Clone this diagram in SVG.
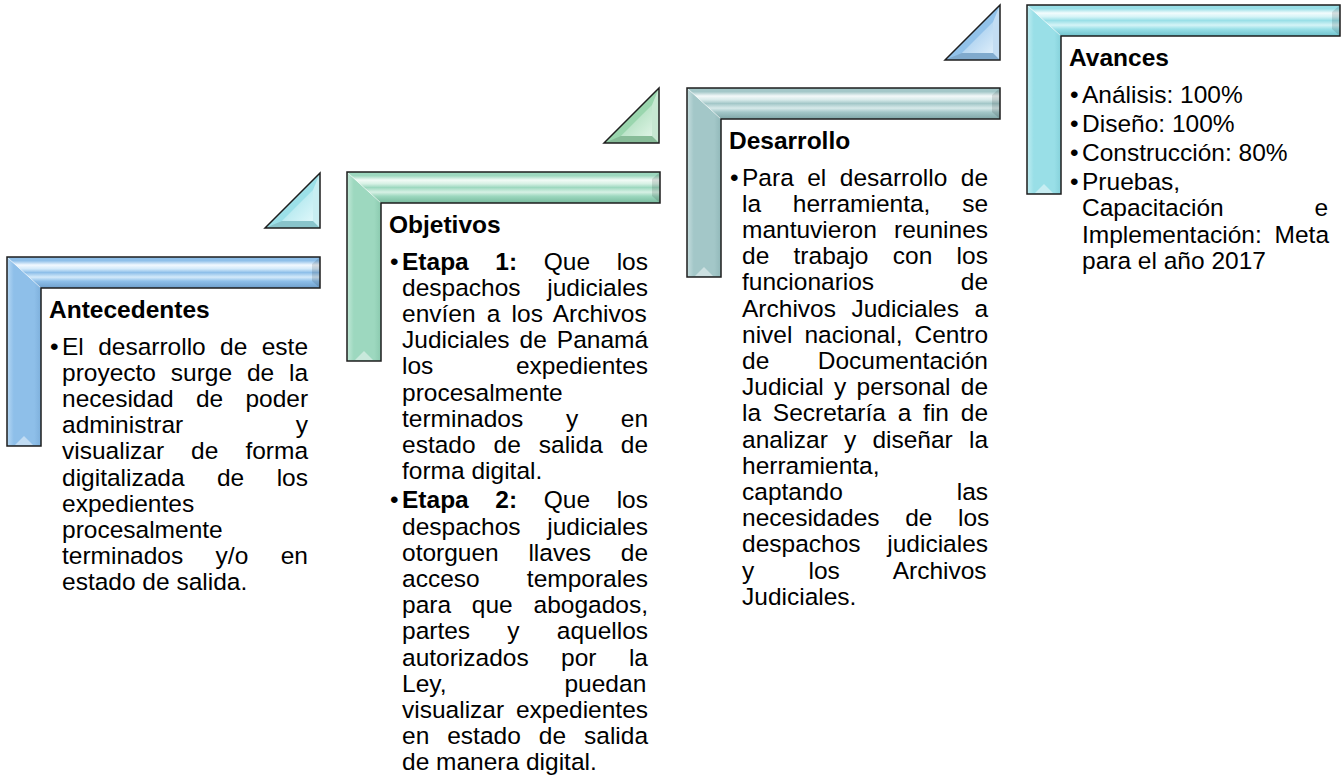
<svg xmlns="http://www.w3.org/2000/svg" width="1343" height="782" viewBox="0 0 1343 782">
<style>
text{font-family:"Liberation Sans",Arial,sans-serif;font-size:24.5px;fill:#000}
.h{font-weight:bold}
.out{fill:none;stroke:#1e1e1e;stroke-width:1.5;stroke-linejoin:miter}
.fd{fill:#000;opacity:.12}
.fl{fill:#fff;opacity:.45}
.miter{stroke:#fff;stroke-opacity:.5;stroke-width:1;fill:none}
</style>
<defs>
<linearGradient id="tb-blue" x1="0" y1="0" x2="0" y2="1"><stop offset="0" stop-color="#8EBFE9"/><stop offset=".12" stop-color="#8EBFE9"/><stop offset=".26" stop-color="#F2F9FF"/><stop offset=".38" stop-color="#D4EAFA"/><stop offset=".5" stop-color="#8EBFE9"/><stop offset=".65" stop-color="#D4EAFA"/><stop offset=".78" stop-color="#8EBFE9"/><stop offset="1" stop-color="#6E9FCC"/></linearGradient>
<linearGradient id="lb-blue" x1="0" y1="0" x2="1" y2="0"><stop offset="0" stop-color="#B6D8F4"/><stop offset=".2" stop-color="#8EBFE9"/><stop offset=".8" stop-color="#8EBFE9"/><stop offset="1" stop-color="#7EB0DC"/></linearGradient>
<linearGradient id="tb-green" x1="0" y1="0" x2="0" y2="1"><stop offset="0" stop-color="#9DD8BF"/><stop offset=".12" stop-color="#9DD8BF"/><stop offset=".26" stop-color="#F2FBF6"/><stop offset=".38" stop-color="#D7F1E5"/><stop offset=".5" stop-color="#9DD8BF"/><stop offset=".65" stop-color="#D7F1E5"/><stop offset=".78" stop-color="#9DD8BF"/><stop offset="1" stop-color="#76B99C"/></linearGradient>
<linearGradient id="lb-green" x1="0" y1="0" x2="1" y2="0"><stop offset="0" stop-color="#C2E9D8"/><stop offset=".2" stop-color="#9DD8BF"/><stop offset=".8" stop-color="#9DD8BF"/><stop offset="1" stop-color="#8BCAAF"/></linearGradient>
<linearGradient id="tb-teal" x1="0" y1="0" x2="0" y2="1"><stop offset="0" stop-color="#A3C7C8"/><stop offset=".12" stop-color="#A3C7C8"/><stop offset=".26" stop-color="#F3F9F9"/><stop offset=".38" stop-color="#D8EAEA"/><stop offset=".5" stop-color="#A3C7C8"/><stop offset=".65" stop-color="#D8EAEA"/><stop offset=".78" stop-color="#A3C7C8"/><stop offset="1" stop-color="#7FA6A7"/></linearGradient>
<linearGradient id="lb-teal" x1="0" y1="0" x2="1" y2="0"><stop offset="0" stop-color="#C6DEDF"/><stop offset=".2" stop-color="#A3C7C8"/><stop offset=".8" stop-color="#A3C7C8"/><stop offset="1" stop-color="#92B9BA"/></linearGradient>
<linearGradient id="tb-cyan" x1="0" y1="0" x2="0" y2="1"><stop offset="0" stop-color="#99DFE7"/><stop offset=".12" stop-color="#99DFE7"/><stop offset=".26" stop-color="#F2FCFD"/><stop offset=".38" stop-color="#D5F4F7"/><stop offset=".5" stop-color="#99DFE7"/><stop offset=".65" stop-color="#D5F4F7"/><stop offset=".78" stop-color="#99DFE7"/><stop offset="1" stop-color="#6FC2CC"/></linearGradient>
<linearGradient id="lb-cyan" x1="0" y1="0" x2="1" y2="0"><stop offset="0" stop-color="#C0EDF2"/><stop offset=".2" stop-color="#99DFE7"/><stop offset=".8" stop-color="#99DFE7"/><stop offset="1" stop-color="#86D2DB"/></linearGradient>
<linearGradient id="tr-cyan" x1="0" y1="0" x2="1" y2="1"><stop offset="0" stop-color="#9CE0E8"/><stop offset="1" stop-color="#DDF7FA"/></linearGradient>
<linearGradient id="tr-green" x1="0" y1="0" x2="1" y2="1"><stop offset="0" stop-color="#9AD6AE"/><stop offset="1" stop-color="#DDF3E4"/></linearGradient>
<linearGradient id="tr-blue" x1="0" y1="0" x2="1" y2="1"><stop offset="0" stop-color="#92C2EA"/><stop offset="1" stop-color="#DCEDFA"/></linearGradient>
</defs>
<rect width="1343" height="782" fill="#fff"/>

<g id="connectors"/>

<g id="node-antecedentes">
  <g transform="translate(265,173)">
    <polygon points="0,55 55,0 55,55" fill="#9CE0E8"/>
    <polygon points="0,55 55,55 48,48 16.9,48" class="fd"/>
    <polygon points="55,55 55,0 48,16.9 48,48" class="fl"/>
    <polygon points="16.9,48 48,16.9 48,48" fill="url(#tr-cyan)"/>
    <polygon points="0,55 55,0 55,55" class="out"/>
  </g>
  <g transform="translate(7,257)">
    <polygon points="0,0 34,31 34,189 0,189" fill="url(#lb-blue)"/>
    <polygon points="0,0 313,0 313,31 34,31" fill="url(#tb-blue)"/>
    <polygon points="305,7 313,0 313,31 305,24" class="fd"/>
    <polygon points="8,188 17,179 26,188" class="fl"/>
    <line x1="1" y1="1" x2="34" y2="31" class="miter"/>
    <path d="M0,0H313V31H34V189H0Z" class="out"/>
  </g>
  <text class="h" x="49" y="318">Antecedentes</text>
  <text x="50" y="354.5">•</text>
  <text x="62" y="354.5" style="word-spacing:7.56px">El desarrollo de este</text>
  <text x="62" y="380.7" style="word-spacing:8.01px">proyecto surge de la</text>
  <text x="62" y="406.9" style="word-spacing:15.41px">necesidad de poder</text>
  <text x="62" y="433.1" style="word-spacing:105.8px">administrar y</text>
  <text x="62" y="459.3" style="word-spacing:20.2px">visualizar de forma</text>
  <text x="62" y="485.5" style="word-spacing:25.6px">digitalizada de los</text>
  <text x="62" y="511.7">expedientes</text>
  <text x="62" y="537.9">procesalmente</text>
  <text x="62" y="564.1" style="word-spacing:25.6px">terminados y/o en</text>
  <text x="62" y="590.3">estado de salida.</text>
</g>

<g id="node-objetivos">
  <g transform="translate(604,88)">
    <polygon points="0,55 55,0 55,55" fill="#9AD6AE"/>
    <polygon points="0,55 55,55 48,48 16.9,48" class="fd"/>
    <polygon points="55,55 55,0 48,16.9 48,48" class="fl"/>
    <polygon points="16.9,48 48,16.9 48,48" fill="url(#tr-green)"/>
    <polygon points="0,55 55,0 55,55" class="out"/>
  </g>
  <g transform="translate(347,172)">
    <polygon points="0,0 34,31 34,189 0,189" fill="url(#lb-green)"/>
    <polygon points="0,0 313,0 313,31 34,31" fill="url(#tb-green)"/>
    <polygon points="305,7 313,0 313,31 305,24" class="fd"/>
    <polygon points="8,188 17,179 26,188" class="fl"/>
    <line x1="1" y1="1" x2="34" y2="31" class="miter"/>
    <path d="M0,0H313V31H34V189H0Z" class="out"/>
  </g>
  <text class="h" x="389" y="233">Objetivos</text>
  <text x="390" y="269.5">•</text>
  <text x="402" y="269.5" style="word-spacing:19.8px"><tspan class="h">Etapa 1:</tspan> Que los</text>
  <text x="402" y="295.7" style="word-spacing:19.97px">despachos judiciales</text>
  <text x="402" y="321.9" style="word-spacing:4.38px">envíen a los Archivos</text>
  <text x="402" y="348.1" style="word-spacing:3.17px">Judiciales de Panamá</text>
  <text x="402" y="374.3" style="word-spacing:75.8px">los expedientes</text>
  <text x="402" y="400.5">procesalmente</text>
  <text x="402" y="426.7" style="word-spacing:35.9px">terminados y en</text>
  <text x="402" y="452.9" style="word-spacing:11.18px">estado de salida de</text>
  <text x="402" y="479.1">forma digital.</text>
  <text x="390" y="508.3">•</text>
  <text x="402" y="508.3" style="word-spacing:19.8px"><tspan class="h">Etapa 2:</tspan> Que los</text>
  <text x="402" y="534.5" style="word-spacing:19.97px">despachos judiciales</text>
  <text x="402" y="560.7" style="word-spacing:22.9px">otorguen llaves de</text>
  <text x="402" y="586.9" style="word-spacing:40.4px">acceso temporales</text>
  <text x="402" y="613.1" style="word-spacing:14px">para que abogados,</text>
  <text x="402" y="639.3" style="word-spacing:30.4px">partes y aquellos</text>
  <text x="402" y="665.5" style="word-spacing:25.6px">autorizados por la</text>
  <text x="402" y="691.7" style="word-spacing:111.2px">Ley, puedan</text>
  <text x="402" y="717.9" style="word-spacing:5px">visualizar expedientes</text>
  <text x="402" y="744.1" style="word-spacing:11.18px">en estado de salida</text>
  <text x="402" y="770.3">de manera digital.</text>
</g>

<g id="node-desarrollo">
  <g transform="translate(945,5)">
    <polygon points="0,55 55,0 55,55" fill="#92C2EA"/>
    <polygon points="0,55 55,55 48,48 16.9,48" class="fd"/>
    <polygon points="55,55 55,0 48,16.9 48,48" class="fl"/>
    <polygon points="16.9,48 48,16.9 48,48" fill="url(#tr-blue)"/>
    <polygon points="0,55 55,0 55,55" class="out"/>
  </g>
  <g transform="translate(687,88)">
    <polygon points="0,0 34,31 34,189 0,189" fill="url(#lb-teal)"/>
    <polygon points="0,0 313,0 313,31 34,31" fill="url(#tb-teal)"/>
    <polygon points="305,7 313,0 313,31 305,24" class="fd"/>
    <polygon points="8,188 17,179 26,188" class="fl"/>
    <line x1="1" y1="1" x2="34" y2="31" class="miter"/>
    <path d="M0,0H313V31H34V189H0Z" class="out"/>
  </g>
  <text class="h" x="729" y="149">Desarrollo</text>
  <text x="730" y="185.5">•</text>
  <text x="742" y="185.5" style="word-spacing:6.66px">Para el desarrollo de</text>
  <text x="742" y="211.7" style="word-spacing:24.96px">la herramienta, se</text>
  <text x="742" y="237.9" style="word-spacing:10.4px">mantuvieron reunines</text>
  <text x="742" y="264.1" style="word-spacing:17.5px">de trabajo con los</text>
  <text x="742" y="290.3" style="word-spacing:79.9px">funcionarios de</text>
  <text x="742" y="316.5" style="word-spacing:8.64px">Archivos Judiciales a</text>
  <text x="742" y="342.7" style="word-spacing:5.2px">nivel nacional, Centro</text>
  <text x="742" y="368.9" style="word-spacing:41.7px">de Documentación</text>
  <text x="742" y="395.1" style="word-spacing:3.48px">Judicial y personal de</text>
  <text x="742" y="421.3" style="word-spacing:4.99px">la Secretaría a fin de</text>
  <text x="742" y="447.5" style="word-spacing:9.38px">analizar y diseñar la</text>
  <text x="742" y="473.7">herramienta,</text>
  <text x="742" y="499.9" style="word-spacing:107.1px">captando las</text>
  <text x="742" y="526.1" style="word-spacing:18.8px">necesidades de los</text>
  <text x="742" y="552.3" style="word-spacing:19.97px">despachos judiciales</text>
  <text x="742" y="578.5" style="word-spacing:47.4px">y los Archivos</text>
  <text x="742" y="604.7">Judiciales.</text>
</g>

<g id="node-avances">
  <g transform="translate(1027,5)">
    <polygon points="0,0 34,31 34,189 0,189" fill="url(#lb-cyan)"/>
    <polygon points="0,0 313,0 313,31 34,31" fill="url(#tb-cyan)"/>
    <polygon points="305,7 313,0 313,31 305,24" class="fd"/>
    <polygon points="8,188 17,179 26,188" class="fl"/>
    <line x1="1" y1="1" x2="34" y2="31" class="miter"/>
    <path d="M0,0H313V31H34V189H0Z" class="out"/>
  </g>
  <text class="h" x="1069" y="66">Avances</text>
  <text x="1070" y="102.5">•</text>
  <text x="1082" y="102.5">Análisis: 100%</text>
  <text x="1070" y="131.7">•</text>
  <text x="1082" y="131.7">Diseño: 100%</text>
  <text x="1070" y="160.9">•</text>
  <text x="1082" y="160.9">Construcción: 80%</text>
  <text x="1070" y="190.1">•</text>
  <text x="1082" y="190.1">Pruebas,</text>
  <text x="1082" y="216.3" style="word-spacing:84px">Capacitación e</text>
  <text x="1082" y="242.5" style="word-spacing:5.98px">Implementación: Meta</text>
  <text x="1082" y="268.7">para el año 2017</text>
</g>
</svg>
